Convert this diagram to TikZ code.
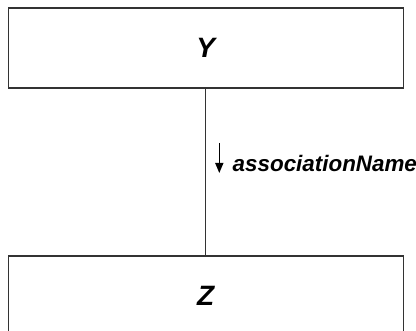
\documentclass[tikz,border=0pt]{standalone}
\usepackage{fontspec}
\setmainfont{Liberation Sans}
\usetikzlibrary{arrows.meta}
\begin{document}
\begin{tikzpicture}[x=1pt,y=-1pt,
  classbox/.style={draw=black!80, line width=1.1pt, minimum width=395pt, minimum height=80pt, inner sep=0pt, font=\fontsize{28}{30}\selectfont\bfseries\itshape},
  conn/.style={draw=black!80, line width=1.1pt},
  dirarrow/.style={draw=black, line width=1.4pt, -{Triangle[length=10pt,width=8pt]}},
  lbl/.style={font=\fontsize{22.4}{24}\selectfont\bfseries\itshape, inner sep=0pt}]
  \useasboundingbox (0,0) rectangle (416,331);
  \clip (0,0) rectangle (416,331);
  \node[classbox] (Y) at (205.75,48) {Y};
  \node[classbox] (Z) at (205.75,296) {Z};
  \draw[conn] (Y.south) -- (Z.north);
  \coordinate (a1) at (219.3,143);
  \coordinate (a2) at (219.3,173);
  \draw[dirarrow] (a1) -- (a2);
  \node[lbl, anchor=base west] (L) at (232.5,172) {associationName};
\end{tikzpicture}
\end{document}
